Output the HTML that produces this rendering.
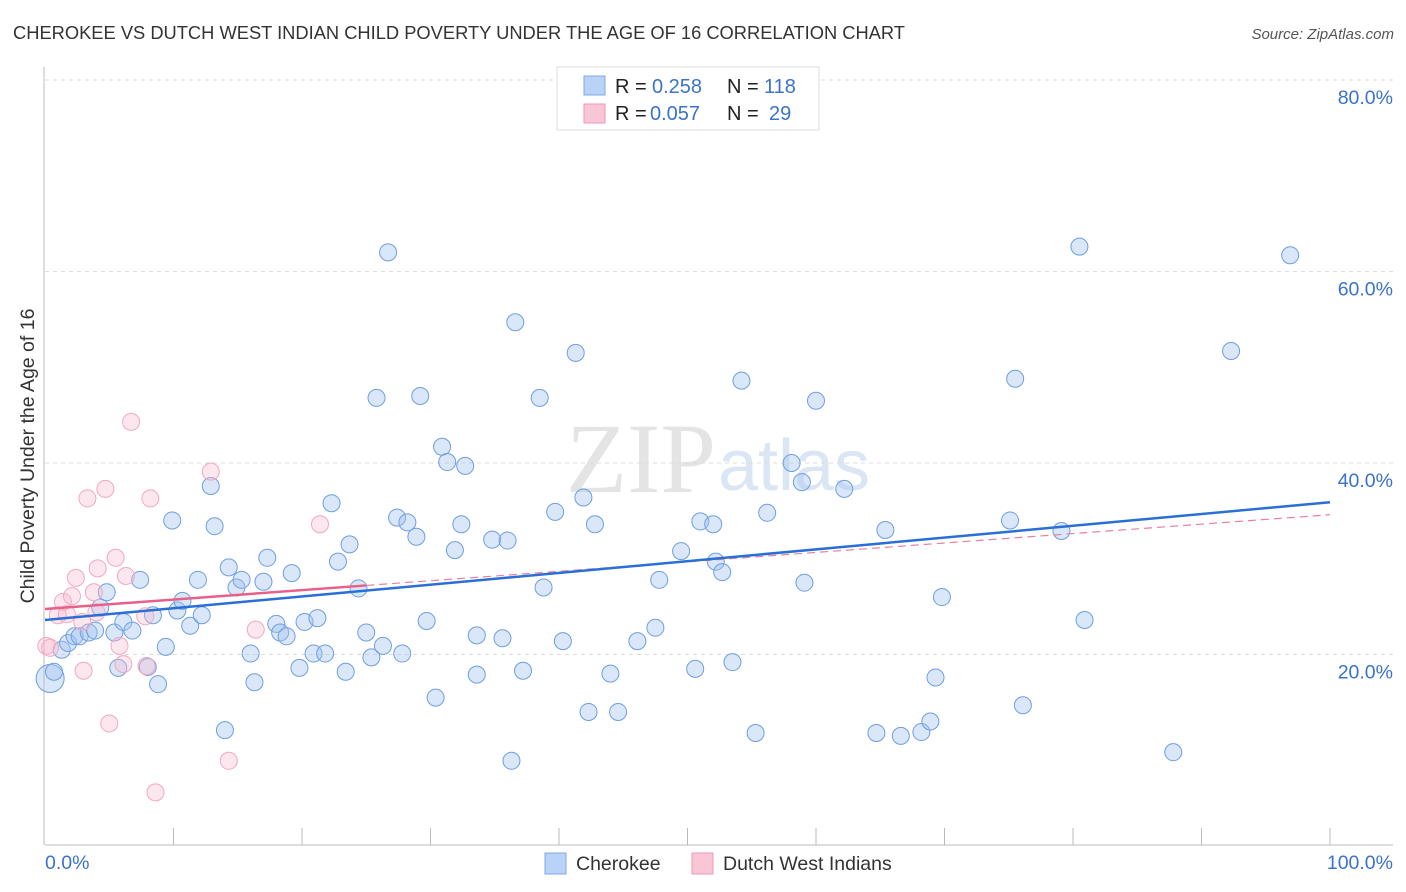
<!DOCTYPE html>
<html><head><meta charset="utf-8">
<style>
body{margin:0;background:#fff;font-family:"Liberation Sans",sans-serif;}
svg{display:block}
</style></head>
<body>
<svg id="chart" width="1406" height="892" viewBox="0 0 1406 892" xmlns="http://www.w3.org/2000/svg">
<text x="13" y="39" font-size="18" fill="#333" textLength="892" lengthAdjust="spacingAndGlyphs">CHEROKEE VS DUTCH WEST INDIAN CHILD POVERTY UNDER THE AGE OF 16 CORRELATION CHART</text>
<text x="1394" y="39" font-size="15" fill="#555" font-style="italic" text-anchor="end">Source: ZipAtlas.com</text>
<text x="716" y="492" font-size="100" fill="#e4e4e4" text-anchor="end" font-family="Liberation Serif, serif">ZIP</text>
<text x="718" y="490" font-size="72" fill="#dbe6f5">atlas</text>
<g id="grid"></g>
<g id="axes"></g>
<g id="points"></g>
<g id="trends"></g>
<text transform="translate(34,456) rotate(-90)" font-size="19.5" fill="#333" text-anchor="middle">Child Poverty Under the Age of 16</text>
<text x="45" y="869" font-size="19.5" fill="#3b73c9">0.0%</text>
<text x="1393" y="869" font-size="19.5" fill="#3b73c9" text-anchor="end">100.0%</text>
<g>
<rect x="557" y="67" width="262" height="63" fill="#fff" stroke="#ddd"/>
<rect x="584" y="76" width="21" height="19" fill="#b8d3f5" stroke="#7ea9e6"/>
<rect x="584" y="104" width="21" height="19" fill="#f9c6d6" stroke="#ee9ab3"/>
<text x="615" y="93" font-size="20" fill="#222">R = <tspan fill="#3b73c9" x="652">0.258</tspan><tspan x="727">N = </tspan><tspan fill="#3b73c9" x="764">118</tspan></text>
<text x="615" y="120" font-size="20" fill="#222">R = <tspan fill="#3b73c9" x="650">0.057</tspan><tspan x="727">N = </tspan><tspan fill="#3b73c9" x="769">29</tspan></text>
</g>
<g>
<rect x="545" y="853" width="21" height="21" fill="#b8d3f5" stroke="#7ea9e6"/>
<text x="576" y="870" font-size="19.5" fill="#333">Cherokee</text>
<rect x="692" y="853" width="21" height="21" fill="#f9c6d6" stroke="#ee9ab3"/>
<text x="723" y="870" font-size="19.5" fill="#333">Dutch West Indians</text>
</g>
</svg>
<script>
const yTicks=[20,40,60,80];
const yTickLabels=["20.0%","40.0%","60.0%","80.0%"];
const xTicks=[10,20,30,40,50,60,70,80,90,100];
const cherokeeX=[0.4,0.7,1.3,1.8,2.3,2.7,3.4,3.9,4.3,4.8,5.4,5.7,6.1,6.8,7.4,8.0,8.4,8.8,9.4,9.9,10.3,10.7,11.3,11.9,12.2,12.9,13.2,14.0,14.3,14.9,15.3,16.0,16.3,17.0,17.3,18.0,18.3,18.8,19.2,19.8,20.2,20.9,21.2,21.8,22.3,22.8,23.4,23.7,24.4,25.0,25.4,25.8,26.3,26.7,27.4,27.8,28.2,28.9,29.2,29.7,30.4,30.9,31.3,31.9,32.4,32.7,33.6,33.6,34.8,35.6,36.0,36.3,36.6,37.2,38.5,38.8,39.7,40.3,41.3,41.9,42.3,42.8,44.0,44.6,46.1,47.5,47.8,49.5,50.6,51.0,52.0,52.2,52.7,53.5,54.2,55.3,56.2,58.1,58.9,59.1,60.0,62.2,64.7,65.4,66.6,68.2,68.9,69.3,69.8,75.1,75.5,76.1,79.1,80.5,80.9,87.8,92.3,96.9];
const cherokeeY=[17.5,18.2,20.5,21.2,21.9,21.9,22.3,22.5,24.9,26.5,22.3,18.6,23.4,22.5,27.8,18.7,24.1,16.9,20.8,34.0,24.6,25.6,23.0,27.8,24.1,37.6,33.4,12.1,29.1,27.0,27.8,20.1,17.1,27.6,30.1,23.2,22.3,21.9,28.5,18.6,23.4,20.1,23.8,20.1,35.8,29.7,18.2,31.5,26.9,22.3,19.7,46.8,20.9,62.0,34.3,20.1,33.8,32.3,47.0,23.5,15.5,41.7,40.1,30.9,33.6,39.7,22.0,17.9,32.0,21.7,31.9,8.9,54.7,18.3,46.8,27.0,34.9,21.4,51.5,36.4,14.0,33.6,18.0,14.0,21.4,22.8,27.8,30.8,18.5,33.9,33.6,29.7,28.6,19.2,48.6,11.8,34.8,40.0,38.0,27.5,46.5,37.3,11.8,33.0,11.5,11.9,13.0,17.6,26.0,34.0,48.8,14.7,32.9,62.6,23.6,9.8,51.7,61.7];
const dutchX=[0.1,0.4,1.0,1.4,1.7,2.1,2.4,2.9,3.3,3.8,4.1,4.7,5.0,5.5,5.8,6.3,6.1,6.7,7.8,7.9,8.2,8.6,12.9,14.3,16.4,21.4,3.0,4.0];
const dutchY=[20.9,20.7,24.1,25.5,24.2,26.1,28.0,23.4,36.3,26.5,29.0,37.3,12.8,30.1,20.9,28.2,19.0,44.3,24.0,18.8,36.3,5.6,39.1,8.9,22.6,33.6,18.3,24.4];
const cherokeeTrend=[23.6,35.9];
const dutchTrend=[24.75,34.6];
const dutchSolidEnd=25;

const NS="http://www.w3.org/2000/svg";
const X=v=>45+v*12.85;
const Y=v=>846-v*9.575;
function mk(tag,attrs,parent){const e=document.createElementNS(NS,tag);for(const k in attrs)e.setAttribute(k,attrs[k]);parent.appendChild(e);return e;}
const grid=document.getElementById('grid'),axes=document.getElementById('axes'),pts=document.getElementById('points'),tr=document.getElementById('trends');
yTicks.forEach((t,i)=>{
 const l=mk('line',{x1:45,x2:1393,y1:Y(t),y2:Y(t),stroke:'#ddd','stroke-dasharray':'4,4'},grid);
 
 
 const tx=mk('text',{x:1393,y:Y(t)+24,'font-size':19.5,fill:'#3b73c9','text-anchor':'end'},grid);
 tx.textContent=yTickLabels[i];
 
 
});
const xa=mk('line',{x1:45,x2:1393,y1:845,y2:845,stroke:'#bbb'},axes);


const ya=mk('line',{x1:44,x2:44,y1:67,y2:845,stroke:'#bbb'},axes);


xTicks.forEach(t=>{
 const l=mk('line',{x1:X(t),x2:X(t),y1:828,y2:845,stroke:'#bbb'},axes);
 
 
});
cherokeeX.forEach((x,i)=>{
 const c=mk('circle',{cx:X(x),cy:Y(cherokeeY[i]),r:i===0?14:8.5,fill:'rgba(160,196,240,0.4)',stroke:'#6f9fe0','stroke-width':1},pts);
 
 
});
dutchX.forEach((x,i)=>{
 const c=mk('circle',{cx:X(x),cy:Y(dutchY[i]),r:8.5,fill:'rgba(248,185,205,0.35)',stroke:'#f2a8bf','stroke-width':1},pts);
 
 
});
const dAt=x=>dutchTrend[0]+(dutchTrend[1]-dutchTrend[0])*x/100;
const pd=mk('line',{x1:X(dutchSolidEnd),y1:Y(dAt(dutchSolidEnd)),x2:X(100),y2:Y(dAt(100)),stroke:'#e8809f','stroke-width':1.2,'stroke-dasharray':'8,5'},tr);


const ps=mk('line',{x1:X(0),y1:Y(dAt(0)),x2:X(dutchSolidEnd),y2:Y(dAt(dutchSolidEnd)),stroke:'#e8608a','stroke-width':2.5},tr);


const bl=mk('line',{x1:X(0),y1:Y(cherokeeTrend[0]),x2:X(100),y2:Y(cherokeeTrend[1]),stroke:'#2a6fd6','stroke-width':2.5},tr);


</script>
</body></html>
